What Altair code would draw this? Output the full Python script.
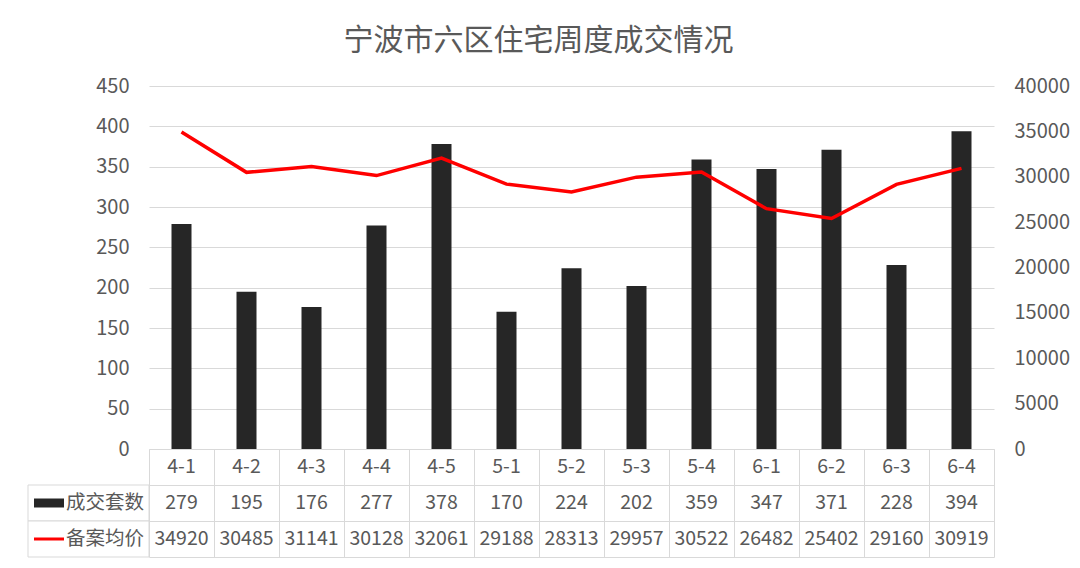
import altair as alt
import pandas as pd

weeks = ["4-1", "4-2", "4-3", "4-4", "4-5", "5-1", "5-2", "5-3", "5-4", "6-1", "6-2", "6-3", "6-4"]
deals = [279, 195, 176, 277, 378, 170, 224, 202, 359, 347, 371, 228, 394]
prices = [34920, 30485, 31141, 30128, 32061, 29188, 28313, 29957, 30522, 26482, 25402, 29160, 30919]
row_names = ["周", "成交套数", "备案均价"]

FONT = "Noto Sans CJK SC"
TXT = "#595959"
GRID = "#d9d9d9"

df_top = pd.DataFrame({"week": weeks, "deals": deals, "price": prices})

rows = []
for w, d, p in zip(weeks, deals, prices):
    rows.append({"week": w, "row": row_names[0], "text": w})
    rows.append({"week": w, "row": row_names[1], "text": str(d)})
    rows.append({"week": w, "row": row_names[2], "text": str(p)})
df_tab = pd.DataFrame(rows)
df_lab = pd.DataFrame({"row": row_names[1:]})

xscale = alt.Scale(domain=weeks, paddingInner=0, paddingOuter=0)

base = alt.Chart(df_top).encode(
    x=alt.X("week:N", sort=weeks, scale=xscale, axis=None)
)
bars = base.mark_bar(width=20, color="#262626").encode(
    y=alt.Y("deals:Q", scale=alt.Scale(domain=[0, 450], nice=False),
            axis=alt.Axis(values=list(range(0, 451, 50)), grid=True, gridColor=GRID,
                          domain=False, ticks=False, labelPadding=20, title=None))
)
line = base.mark_line(color="#ff0000", strokeWidth=3.5).encode(
    y=alt.Y("price:Q", scale=alt.Scale(domain=[0, 40000], nice=False),
            axis=alt.Axis(orient="right", values=list(range(0, 40001, 5000)), format="d",
                          grid=False, domain=False, ticks=False, labelPadding=20, title=None))
)
top = alt.layer(bars, line).resolve_scale(y="independent").properties(width=845, height=363)

ysc = alt.Scale(domain=row_names, paddingInner=0, paddingOuter=0)
tbase = alt.Chart(df_tab).encode(
    x=alt.X("week:N", sort=weeks, scale=xscale,
            axis=alt.Axis(labels=False, ticks=False, domain=False, grid=True,
                          tickBand="extent", gridColor=GRID, title=None)),
    y=alt.Y("row:N", sort=row_names, scale=ysc,
            axis=alt.Axis(labels=False, ticks=False, domain=False, grid=True,
                          tickBand="extent", gridColor=GRID, title=None)),
)
ttext = tbase.mark_text(font=FONT, fontSize=19.5, color=TXT).encode(text="text:N")

lbase = alt.Chart(df_lab).encode(y=alt.Y("row:N", sort=row_names, scale=ysc))
lrect = lbase.mark_rect(fill="#ffffff", stroke=GRID, strokeWidth=1).encode(
    x=alt.value(-121), x2=alt.value(0))
ltext = lbase.mark_text(font=FONT, fontSize=19.5, color=TXT, align="right").encode(
    x=alt.value(-5), text="row:N")
lsym = lbase.mark_rule().encode(
    x=alt.value(-115), x2=alt.value(-85),
    color=alt.Color("row:N", scale=alt.Scale(domain=row_names[1:], range=["#262626", "#ff0000"]), legend=None),
    strokeWidth=alt.StrokeWidth("row:N", scale=alt.Scale(domain=row_names[1:], range=[9, 3]), legend=None),
)

bottom = alt.layer(tbase.mark_text(opacity=0).encode(text="text:N"), lrect, ltext, lsym, ttext).properties(width=845, height=108)

chart = alt.vconcat(
    top, bottom, spacing=0, bounds="flush",
    title=alt.TitleParams("宁波市六区住宅周度成交情况", font=FONT, fontSize=30, color=TXT,
                          fontWeight="normal", anchor="middle", dx=-10, offset=20),
    padding={"left": 19, "top": 18, "right": 0, "bottom": 0},
).configure_view(strokeWidth=0).configure_axis(
    labelFont=FONT, labelColor=TXT, labelFontSize=20
)

chart.save("out.html", embed_options={"renderer": "svg", "actions": False})
